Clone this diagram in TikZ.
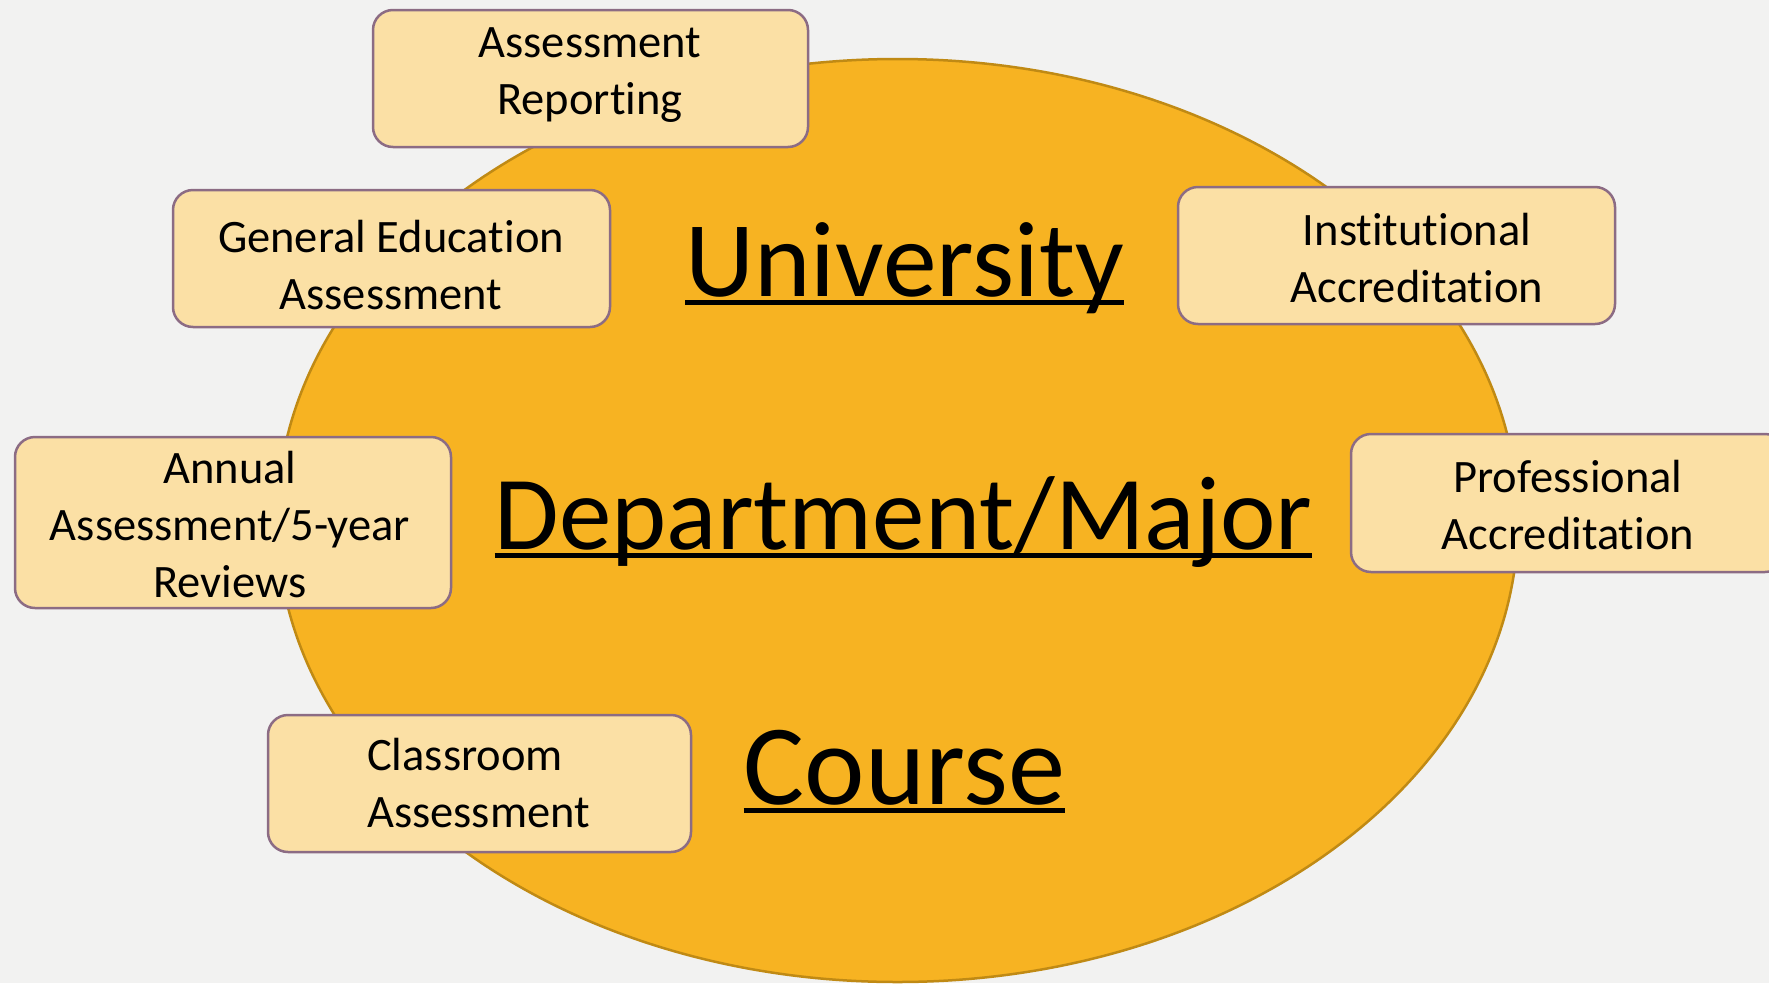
\documentclass[tikz,border=0pt]{standalone}
\usepackage{fontspec}
\setmainfont{Carlito}[RawFeature={-liga}]
\definecolor{bgc}{HTML}{F2F2F1}
\definecolor{ellfill}{HTML}{F7B322}
\definecolor{elldraw}{HTML}{C08A14}
\definecolor{boxfill}{HTML}{FBE0A5}
\definecolor{boxdraw}{HTML}{8C6C84}
\tikzset{
  box/.style={draw=boxdraw, fill=boxfill, line width=2.5pt, rounded corners=20pt, inner sep=0pt, rectangle},
  lbl/.style={inner sep=0pt, align=center, font=\fontsize{46.5}{57}\selectfont, text=black},
  big/.style={inner sep=0pt, text=black, anchor=base},
  uline/.style={line width=5pt, black}
}
\begin{document}
\begin{tikzpicture}[x=1pt,y=-1pt]
\useasboundingbox (0,0) rectangle (1769,983);
\clip (0,0) rectangle (1769,983);
\fill[bgc] (0,0) rectangle (1769,983);
% big ellipse
\draw[fill=ellfill, draw=elldraw, line width=2.5pt] (897.5,520.5) ellipse [x radius=620.5, y radius=461.5];
% boxes
\node[box, minimum width=435pt, minimum height=137pt] (ar) at (590.5,78.5) {};
\node[box, minimum width=437pt, minimum height=137pt] (ge) at (391.5,258.5) {};
\node[box, minimum width=437pt, minimum height=137pt] (ia) at (1396.5,255.5) {};
\node[box, minimum width=436pt, minimum height=171pt] (an) at (233,522.5) {};
\node[box, minimum width=434pt, minimum height=138pt] (pa) at (1568,503) {};
\node[box, minimum width=423pt, minimum height=137pt] (ca) at (479.5,783.5) {};
% box texts
\node[lbl, anchor=north] (ar-t) at (590,17) {\rule{0pt}{40pt}Assessment\\Reporting};
\node[lbl, anchor=north] (ge-t) at (391,212) {\rule{0pt}{40pt}General Education\\Assessment};
\node[lbl, anchor=north] (ia-t) at (1417,205) {\rule{0pt}{40pt}Institutional\\Accreditation};
\node[lbl, anchor=north] (an-t) at (230,443) {\rule{0pt}{40pt}Annual\\Assessment/5-year\\Reviews};
\node[lbl, anchor=north] (pa-t) at (1568,452) {\rule{0pt}{40pt}Professional\\Accreditation};
\node[lbl, align=left, anchor=north west] (ca-t) at (367,730) {\rule{0pt}{40pt}Classroom\\Assessment};
% big labels
\node[big, font=\fontsize{107.5}{120}\selectfont] (uni) at (904.5,296) {University};
\node[big, font=\fontsize{105}{120}\selectfont] (dep) at (903.5,549) {Department/Major};
\node[big, font=\fontsize{114.5}{120}\selectfont] (cou) at (904.5,804) {Course};
\draw[uline] ([yshift=-6pt]uni.base west) -- ([yshift=-6pt]uni.base east);
\draw[uline] ([yshift=-6pt]dep.base west) -- ([yshift=-6pt]dep.base east);
\draw[uline] ([yshift=-6pt]cou.base west) -- ([yshift=-6pt]cou.base east);
\end{tikzpicture}
\end{document}
